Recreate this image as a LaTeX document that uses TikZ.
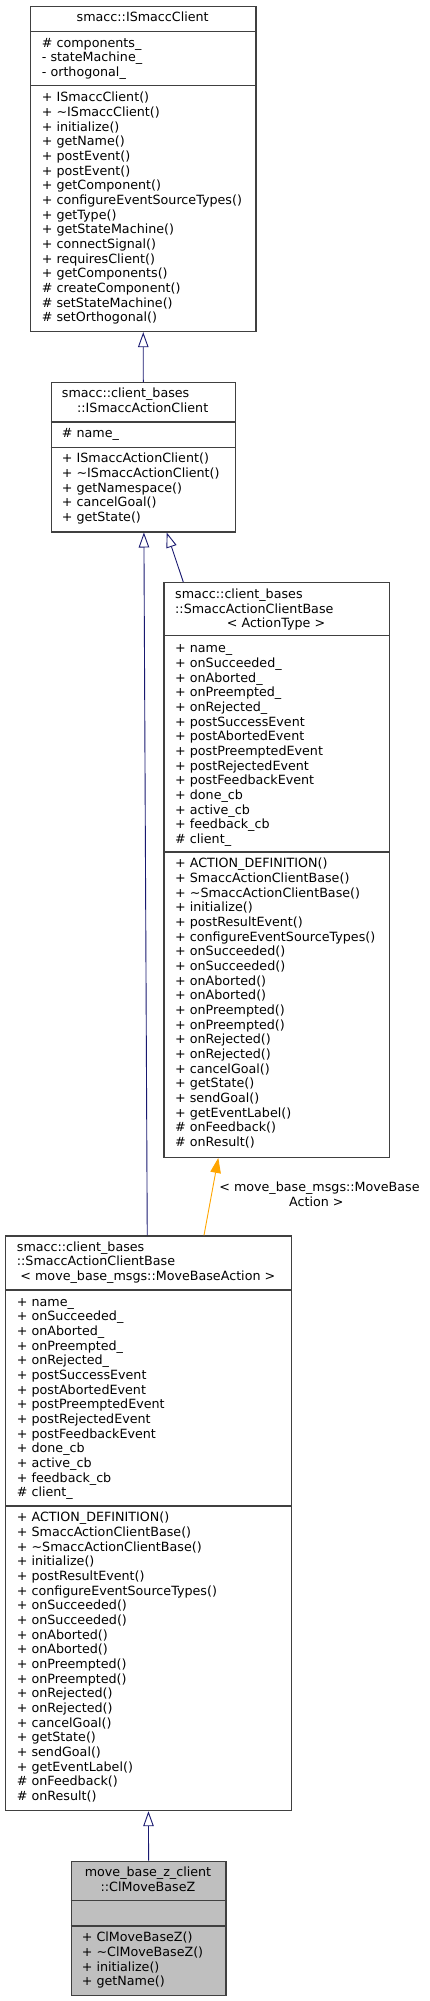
\documentclass[tikz,border=0pt]{standalone}
\usepackage{fontspec}
\setmainfont{DejaVu Sans}
\usetikzlibrary{arrows.meta,calc}
\definecolor{edgeblue}{HTML}{191970}
\definecolor{edgeorange}{HTML}{FFA500}
\definecolor{boxgray}{HTML}{404040}
\definecolor{fillgray}{HTML}{BFBFBF}
\newcommand\memlines[4]{\foreach \mem [count=\i from 0] in {#4} {\node[txt] (#1\i) at ({#2},{#3+4.4+\i*14.67}) {\mem};}}
\begin{document}
\begin{tikzpicture}[x=1pt,y=-1pt,
  txt/.style={font=\fontsize{12.7}{15}\selectfont, inner sep=0pt, anchor=base west},
  ttl/.style={txt, anchor=base},
  box/.style={draw=boxgray, line width=1.2pt, anchor=north west, inner sep=0pt},
  sep/.style={draw=boxgray, line width=1.2pt},
  inh/.style={draw=edgeblue, line width=0.9pt, -{Triangle[open, length=15pt, width=10.5pt, fill=white]}},
  tmpl/.style={draw=edgeorange, line width=0.9pt, -{Triangle[length=15pt, width=10.5pt]}}]
\useasboundingbox (0,0) rectangle (429,2001);

% ---- boxes
\node[box, minimum width=225.3pt, minimum height=325.3pt] (b1) at (30,5.7) {};
\node[box, minimum width=184pt, minimum height=149.3pt] (b2) at (50.7,382) {};
\node[box, minimum width=225.4pt, minimum height=574.7pt] (b3) at (163.3,582) {};
\node[box, minimum width=285.7pt, minimum height=574.7pt] (b4) at (5,1235.3) {};
\node[box, fill=fillgray, minimum width=154.6pt, minimum height=134.3pt] (b5) at (70.7,1860.7) {};

% ---- separators
\draw[sep] ([yshift=-26pt]b1.north west) -- ([yshift=-26pt]b1.north east);
\draw[sep] ([yshift=-80pt]b1.north west) -- ([yshift=-80pt]b1.north east);
\draw[sep] ([yshift=-40pt]b2.north west) -- ([yshift=-40pt]b2.north east);
\draw[sep] ([yshift=-65.3pt]b2.north west) -- ([yshift=-65.3pt]b2.north east);
\draw[sep] ([yshift=-53.3pt]b3.north west) -- ([yshift=-53.3pt]b3.north east);
\draw[sep] ([yshift=-270pt]b3.north west) -- ([yshift=-270pt]b3.north east);
\draw[sep] ([yshift=-54.7pt]b4.north west) -- ([yshift=-54.7pt]b4.north east);
\draw[sep] ([yshift=-270.7pt]b4.north west) -- ([yshift=-270.7pt]b4.north east);
\draw[sep] ([yshift=-40pt]b5.north west) -- ([yshift=-40pt]b5.north east);
\draw[sep] ([yshift=-65.3pt]b5.north west) -- ([yshift=-65.3pt]b5.north east);

% ---- titles
\node[ttl] (b1t) at (142.7,21.7) {smacc::ISmaccClient};
\node[txt] (b2t1) at (61.7,397.7) {smacc::client\_bases};
\node[ttl] (b2t2) at (142.7,412.7) {::ISmaccActionClient};
\node[txt] (b3t1) at (175,598.4) {smacc::client\_bases};
\node[txt] (b3t2) at (175,613.1) {::SmaccActionClientBase};
\node[ttl] (b3t3) at (276,627.7) {< ActionType >};
\node[txt] (b4t1) at (16.7,1251.1) {smacc::client\_bases};
\node[txt] (b4t2) at (16.7,1265.7) {::SmaccActionClientBase};
\node[ttl] (b4t3) at (147.85,1280.4) {< move\_base\_msgs::MoveBaseAction >};
\node[ttl] (b5t1) at (148,1876.7) {move\_base\_z\_client};
\node[ttl] (b5t2) at (148,1891.1) {::ClMoveBaseZ};

% ---- members
\memlines{b1a}{41.7}{42.7}{\# components\_, - stateMachine\_, - orthogonal\_}
\memlines{b1m}{41.7}{97.3}{+ ISmaccClient(), + \textasciitilde ISmaccClient(), + initialize(), + getName(), + postEvent(), + postEvent(), + getComponent(), + configureEventSourceTypes(), + getType(), + getStateMachine(), + connectSignal(), + requiresClient(), + getComponents(), \# createComponent(), \# setStateMachine(), \# setOrthogonal()}

\memlines{b2a}{61.7}{433.3}{\# name\_}
\memlines{b2m}{61.7}{458.3}{+ ISmaccActionClient(), + \textasciitilde ISmaccActionClient(), + getNamespace(), + cancelGoal(), + getState()}

\memlines{b3a}{175}{648.5}{+ name\_, + onSucceeded\_, + onAborted\_, + onPreempted\_, + onRejected\_, + postSuccessEvent, + postAbortedEvent, + postPreemptedEvent, + postRejectedEvent, + postFeedbackEvent, + done\_cb, + active\_cb, + feedback\_cb, \# client\_}
\memlines{b3m}{175}{863.3}{+ ACTION\_DEFINITION(), + SmaccActionClientBase(), + \textasciitilde SmaccActionClientBase(), + initialize(), + postResultEvent(), + configureEventSourceTypes(), + onSucceeded(), + onSucceeded(), + onAborted(), + onAborted(), + onPreempted(), + onPreempted(), + onRejected(), + onRejected(), + cancelGoal(), + getState(), + sendGoal(), + getEventLabel(), \# onFeedback(), \# onResult()}

\memlines{b4a}{16.7}{1301.7}{+ name\_, + onSucceeded\_, + onAborted\_, + onPreempted\_, + onRejected\_, + postSuccessEvent, + postAbortedEvent, + postPreemptedEvent, + postRejectedEvent, + postFeedbackEvent, + done\_cb, + active\_cb, + feedback\_cb, \# client\_}
\memlines{b4m}{16.7}{1517.3}{+ ACTION\_DEFINITION(), + SmaccActionClientBase(), + \textasciitilde SmaccActionClientBase(), + initialize(), + postResultEvent(), + configureEventSourceTypes(), + onSucceeded(), + onSucceeded(), + onAborted(), + onAborted(), + onPreempted(), + onPreempted(), + onRejected(), + onRejected(), + cancelGoal(), + getState(), + sendGoal(), + getEventLabel(), \# onFeedback(), \# onResult()}

\memlines{b5m}{81.7}{1937.3}{+ ClMoveBaseZ(), + \textasciitilde ClMoveBaseZ(), + initialize(), + getName()}

% ---- connectors
\draw[inh] (b2.north) -- (b1.south);
\draw[inh] ([xshift=-1.2pt]b4.north) -- ([xshift=0.6pt]b2.south);
\draw[inh] ([xshift=20pt]b3.north west) -- ([xshift=116pt]b2.south west);
\draw[tmpl] ([xshift=199pt]b4.north west) -- ([xshift=55pt]b3.south west);
\draw[inh] (b5.north) -- (b4.south);

\node[ttl] (l1) at (319.5,1191.7) {< move\_base\_msgs::MoveBase};
\node[ttl] (l2) at (316.3,1206.7) {Action >};
\end{tikzpicture}
\end{document}
